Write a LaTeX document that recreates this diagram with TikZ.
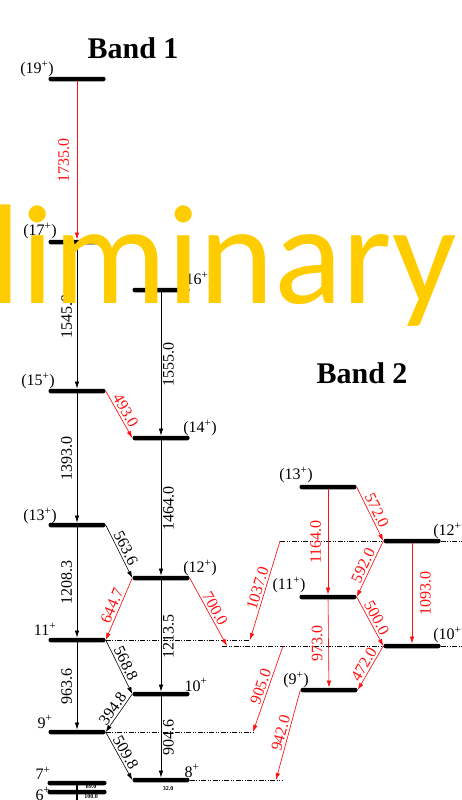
\documentclass[tikz,border=0pt]{standalone}
\usepackage{fontspec}
\setmainfont{Liberation Serif}
\newfontfamily\wmfont{Carlito}
\usetikzlibrary{arrows.meta}
\definecolor{lred}{HTML}{FF1010}
\definecolor{wmyellow}{HTML}{FFCC00}
\tikzset{
  lvl/.style={fill, minimum width=57pt, minimum height=4.5pt, inner sep=0pt, rounded corners=2pt},
  spin/.style={font=\fontsize{16}{16}\selectfont, inner sep=0pt},
  title/.style={font=\bfseries\fontsize{30}{30}\selectfont, inner sep=0pt},
  ene/.style={font=\fontsize{16}{16}\selectfont, sloped, inner sep=2pt},
  vl/.style={font=\fontsize{16}{16}\selectfont, rotate=90},
  tiny/.style={font=\bfseries\fontsize{6}{6}\selectfont, inner sep=0pt},
  tr/.style={-{Latex[length=7pt,width=4.5pt]}, line width=0.6pt},
  rtr/.style={tr, draw=lred, fill=lred, text=lred},
  ext/.style={dash pattern=on 5pt off 1.5pt on 1pt off 1.5pt on 1pt off 1.5pt, line width=0.5pt},
  wm/.style={font=\wmfont\fontsize{142}{142}\selectfont, text=wmyellow, inner sep=0pt}
}
\begin{document}
\begin{tikzpicture}[x=1pt, y=-1pt]
\useasboundingbox (0,0) rectangle (462,800);
\clip (0,0) rectangle (462,800);

\node[title] (B1) at (133,48) {Band 1};
\node[title] (B2) at (362,373) {Band 2};

\node[lvl] (L19) at (77,79) {};
\node[lvl] (L17) at (77,242) {};
\node[lvl] (L15) at (77,391) {};
\node[lvl] (L13) at (77,525) {};
\node[lvl] (L11) at (77,640) {};
\node[lvl] (L9) at (77,732) {};
\node[lvl, minimum width=59pt] (L7) at (77,783) {};
\node[lvl, minimum width=59pt] (L6) at (77,792) {};
\node[lvl] (L16) at (161,290) {};
\node[lvl] (L14) at (161,438) {};
\node[lvl] (L12) at (161,578) {};
\node[lvl] (L10) at (161,694) {};
\node[lvl] (L8) at (161,780) {};
\node[lvl] (M13) at (328,487) {};
\node[lvl] (M11) at (328,597) {};
\node[lvl] (M9) at (329,690) {};
\node[lvl] (M12) at (412,541) {};
\node[lvl] (M10) at (412,646) {};

\node[spin] (S19) at (37,69) {(19\textsuperscript{+})};
\node[spin] (S17) at (40,231) {(17\textsuperscript{+})};
\node[spin] (S15) at (38,381) {(15\textsuperscript{+})};
\node[spin] (S13) at (40,516) {(13\textsuperscript{+})};
\node[spin] (S11) at (45,629) {11\textsuperscript{+}};
\node[spin] (S9) at (45,722) {9\textsuperscript{+}};
\node[spin] (S7) at (43,773) {7\textsuperscript{+}};
\node[spin] (S6) at (43,794) {6\textsuperscript{+}};
\node[spin] (S16) at (197,280) {(16\textsuperscript{+})};
\node[spin] (S14) at (200,428) {(14\textsuperscript{+})};
\node[spin] (S12) at (200,568) {(12\textsuperscript{+})};
\node[spin] (S10) at (196,685) {10\textsuperscript{+}};
\node[spin] (S8) at (192,771) {8\textsuperscript{+}};
\node[spin] (T13) at (296,475) {(13\textsuperscript{+})};
\node[spin] (T12) at (450,531) {(12\textsuperscript{+})};
\node[spin] (T11) at (289,585) {(11\textsuperscript{+})};
\node[spin] (T10) at (450,635) {(10\textsuperscript{+})};
\node[spin] (T9) at (296,680) {(9\textsuperscript{+})};

\node[tiny] (E32) at (168,789) {32.0};
\node[tiny] (E89) at (91,787) {89.0};
\node[tiny] (E100) at (91,797) {100.0};
\coordinate (G0) at (77,800);
\draw[line width=1.8pt] (L7.north) -- (G0);

\coordinate (e11) at (250,640);
\coordinate (e9) at (253,732);
\coordinate (e8) at (282,780);
\coordinate (t8) at (276,780);
\coordinate (s12) at (280,541);
\coordinate (r12) at (462,541);
\coordinate (s10) at (222,646);
\coordinate (t700) at (227,646);
\coordinate (s905) at (283,646);
\coordinate (r10) at (462,646);
\draw[ext] (L11.east) -- (e11);
\draw[ext] (L9.east) -- (e9);
\draw[ext] (L8.east) -- (e8);
\draw[ext] (s12) -- (M12.west);
\draw[ext] (M12.east) -- (r12);
\draw[ext] (s10) -- (M10.west);
\draw[ext] (M10.east) -- (r10);

\draw[rtr] (L19) -- node[vl, anchor=south, inner sep=7.5pt] {1735.0} (L17);
\draw[tr] (L17) -- node[vl, anchor=south, inner sep=4.7pt] {1545.0} (L15);
\draw[tr] (L15) -- node[vl, anchor=south, inner sep=4.7pt] {1393.0} (L13);
\draw[tr] (L13) -- node[vl, anchor=south, inner sep=4.7pt] {1208.3} (L11);
\draw[tr] (L11) -- node[vl, anchor=south, inner sep=4.7pt] {963.6} (L9);
\draw[tr] (L16) -- node[vl, anchor=north, inner sep=1.7pt] {1555.0} (L14);
\draw[tr] (L14) -- node[vl, anchor=north, inner sep=1.7pt] {1464.0} (L12);
\draw[tr] (L12) -- node[vl, anchor=north, inner sep=1.7pt] {1213.5} (L10);
\draw[tr] (L10) -- node[vl, anchor=north, inner sep=1.7pt] {904.6} (L8);
\draw[rtr] (L15.east) -- node[ene, above] {493.0} (L14.west);
\draw[tr] (L13.east) -- node[ene, above] {563.6} (L12.west);
\draw[rtr] (L12.west) -- node[ene, above] {644.7} (L11.east);
\draw[rtr] (L12.east) -- node[ene, above] {700.0} (t700);
\draw[tr] (L11.east) -- node[ene, above] {568.8} (L10.west);
\draw[tr] (L10.west) -- node[ene, above] {394.8} (L9.east);
\draw[tr] (L9.east) -- node[ene, above] {509.8} (L8.west);
\draw[rtr] (s12) -- node[ene, above] {1037.0} (e11);
\draw[rtr] (s905) -- node[ene, above] {905.0} (e9);
\draw[rtr] (M9.west) -- node[ene, above] {942.0} (t8);
\draw[rtr] (M13) -- node[vl, anchor=south, inner sep=6.7pt] {1164.0} (M11);
\draw[rtr] (M11) -- node[vl, anchor=south, inner sep=5.7pt] {973.0} (M9);
\draw[rtr] (M12) -- node[vl, anchor=north, inner sep=7.7pt] {1093.0} (M10);
\draw[rtr] (M13.east) -- node[ene, above] {572.0} (M12.west);
\draw[rtr] (M12.west) -- node[ene, above] {592.0} (M11.east);
\draw[rtr] (M11.east) -- node[ene, above] {500.0} (M10.west);
\draw[rtr] (M10.west) -- node[ene, above] {472.0} (M9.east);

\node[wm, anchor=base east] (W) at (457,303) {Preliminary};
\end{tikzpicture}
\end{document}
